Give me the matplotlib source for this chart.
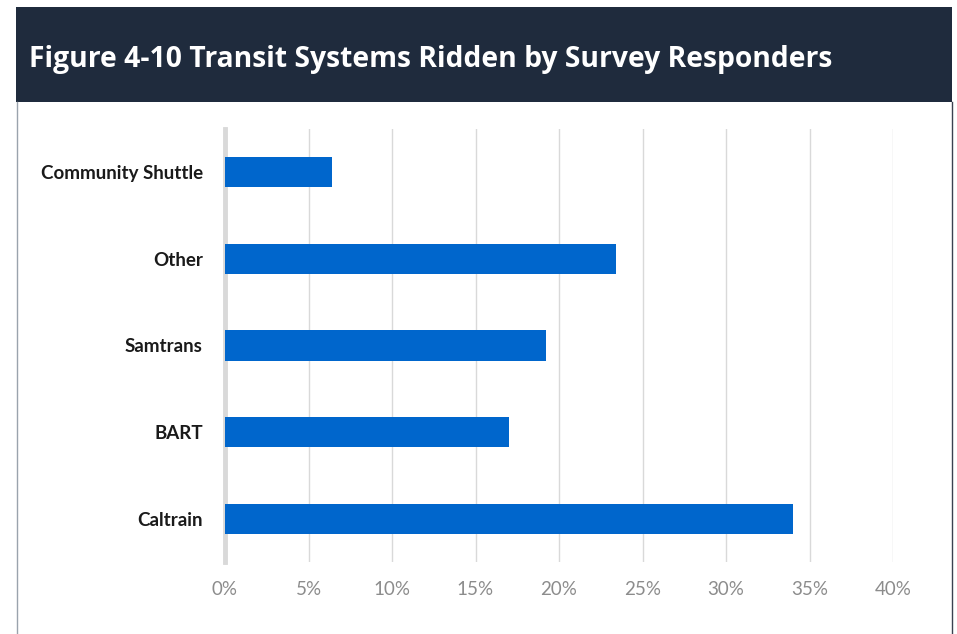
import matplotlib
matplotlib.use("Agg")
import matplotlib.pyplot as plt
from matplotlib.patches import Rectangle
from matplotlib.lines import Line2D
from matplotlib.ticker import FuncFormatter

categories = ["Caltrain", "BART", "Samtrans", "Other", "Community Shuttle"]
values = [34.0, 17.0, 19.2, 23.4, 6.4]
xticks = [0, 5, 10, 15, 20, 25, 30, 35, 40]
title = "Figure 4-10 Transit Systems Ridden by Survey Responders"

W, H = 957, 634
fig = plt.figure(figsize=(W / 100, H / 100), dpi=100)
fig.patch.set_facecolor("white")

# header band
fig.patches.append(Rectangle((16 / W, 1 - 102 / H), (952 - 16) / W, 95 / H,
                             transform=fig.transFigure, facecolor="#1F2B3D",
                             edgecolor="none", zorder=0))
# panel borders
fig.lines.append(Line2D([16.5 / W, 16.5 / W], [0, 1 - 102 / H], transform=fig.transFigure,
                        color="#9aa3ad", lw=1))
fig.lines.append(Line2D([951.5 / W, 951.5 / W], [0, 1 - 102 / H], transform=fig.transFigure,
                        color="#3a4250", lw=1))
fig.text(29 / W, 1 - 59 / H, title, color="white", fontsize=20.3, fontweight="bold",
         family="Open Sans", va="center", ha="left")

ax = fig.add_axes([225 / W, 1 - 562 / H, (893 - 225) / W, (562 - 129) / H])
ax.barh(range(len(categories)), values, height=0.35, color="#0066CC", zorder=3)
ax.set_xlim(0, 40)
ax.set_ylim(-0.5, len(categories) - 0.5)
ax.set_xticks(xticks)
ax.xaxis.set_major_formatter(FuncFormatter(lambda v, p: f"{v:.0f}%"))
ax.set_yticks(range(len(categories)))
ax.set_yticklabels(categories)
ax.grid(axis="x", color="#d9d9d9", lw=1, zorder=0)
for s in ["top", "right", "bottom"]:
    ax.spines[s].set_visible(False)
ax.spines["left"].set_color("#d9d9d9")
ax.spines["left"].set_linewidth(3.5)
ax.tick_params(axis="both", length=0)
ax.tick_params(axis="x", pad=14, labelsize=13.5, labelcolor="#8c8c8c")
ax.tick_params(axis="y", pad=16, labelsize=13.5, labelcolor="#1a1a1a")
for t in ax.get_xticklabels():
    t.set_family("Lato")
for t in ax.get_yticklabels():
    t.set_family("Lato")
    t.set_fontweight("bold")

fig.savefig("out.png", dpi=100)
